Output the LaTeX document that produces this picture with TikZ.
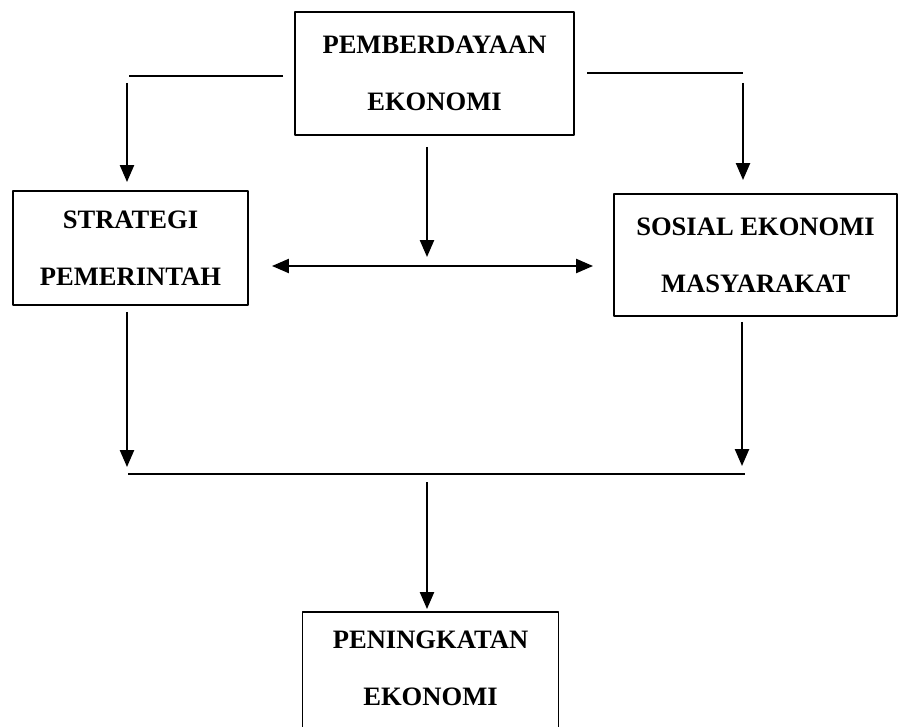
\documentclass[tikz,border=0pt]{standalone}
\usepackage{fontspec}
\setmainfont{Liberation Serif}
\usetikzlibrary{arrows.meta}
\tikzset{kotak/.style={draw, align=center, inner sep=0pt}}
\begin{document}
\begin{tikzpicture}[x=0.025cm,y=-0.025cm,>={Triangle[length=12pt,width=10pt]}, line width=1.35pt, font=\fontsize{18.9}{40.5}\selectfont\bfseries, line join=round]
	\useasboundingbox (0,0) rectangle (899,727);
	\node[kotak, minimum width=6.975cm, minimum height=3.075cm] (pem) at (434.5,73.5) {PEMBERDAYAAN\\EKONOMI};
	\node[kotak, minimum width=5.875cm, minimum height=2.85cm] (str) at (130.5,248) {STRATEGI\\PEMERINTAH};
	\node[kotak, minimum width=7.075cm, minimum height=3.05cm] (sos) at (755.5,255) {SOSIAL EKONOMI\\MASYARAKAT};
	\node[draw, minimum width=6.4cm, minimum height=3.35cm, anchor=north] (pen) at (430.5,611) {};
	\node[align=center] (pentxt) at (430.5,668.5) {PENINGKATAN\\EKONOMI};
	% titik ujung garis
	\path (283,76)coordinate(A1) (129,76)coordinate(A2) (127,83)coordinate(A3) (127,182)coordinate(A4)
	(587,73)coordinate(B1) (743,73)coordinate(B2) (743,83)coordinate(B3) (743,180)coordinate(B4)
	(427,147)coordinate(C1) (427,257)coordinate(C2)
	(272,266)coordinate(H1) (593,266)coordinate(H2)
	(127,312)coordinate(L1) (127,467)coordinate(L2)
	(742,322)coordinate(R1) (742,466)coordinate(R2)
	(128,474)coordinate(J1) (745,474)coordinate(J2)
	(427,482)coordinate(D1) (427,609)coordinate(D2);
	\foreach \p/\q in {A1/A2,B1/B2,J1/J2}
	{
		\draw (\p)--(\q);
	}
	\foreach \p/\q in {A3/A4,B3/B4,C1/C2,L1/L2,R1/R2,D1/D2}
	{
		\draw[->] (\p)--(\q);
	}
	\draw[<->] (H1)--(H2);
\end{tikzpicture}
\end{document}
